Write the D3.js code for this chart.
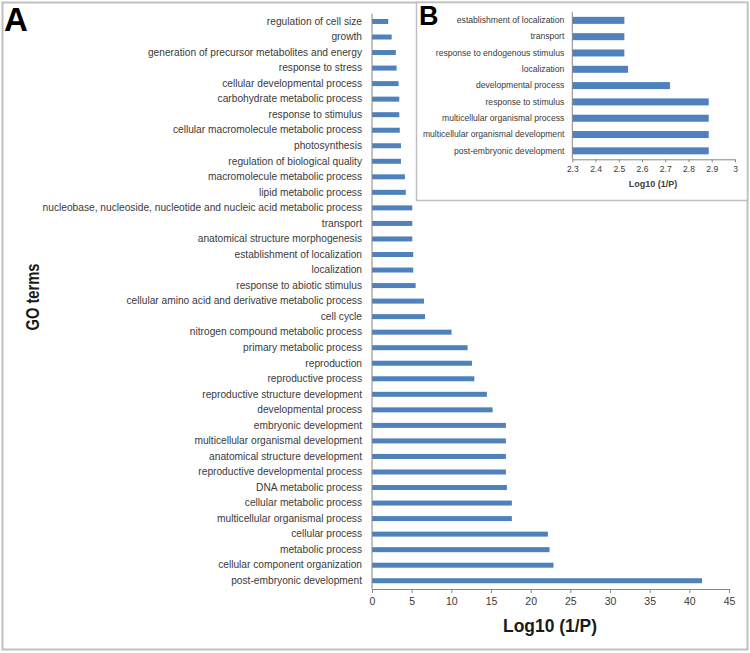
<!DOCTYPE html>
<html><head><meta charset="utf-8">
<script src="https://cdn.jsdelivr.net/npm/d3@7"></script>
<style>
body{margin:0;background:#fff;}
svg{display:block;font-family:"Liberation Sans",Arial,sans-serif;}
</style></head>
<body><svg id="c" width="750" height="653"></svg>
<script>
const mainCategories = [
 "regulation of cell size","growth","generation of precursor metabolites and energy","response to stress",
 "cellular developmental process","carbohydrate metabolic process","response to stimulus",
 "cellular macromolecule metabolic process","photosynthesis","regulation of biological quality",
 "macromolecule metabolic process","lipid metabolic process",
 "nucleobase, nucleoside, nucleotide and nucleic acid metabolic process","transport",
 "anatomical structure morphogenesis","establishment of localization","localization",
 "response to abiotic stimulus","cellular amino acid and derivative metabolic process","cell cycle",
 "nitrogen compound metabolic process","primary metabolic process","reproduction","reproductive process",
 "reproductive structure development","developmental process","embryonic development",
 "multicellular organismal development","anatomical structure development",
 "reproductive developmental process","DNA metabolic process","cellular metabolic process",
 "multicellular organismal process","cellular process","metabolic process",
 "cellular component organization","post-embryonic development"];
const mainValues = [2.05,2.48,3.0,3.1,3.35,3.44,3.44,3.5,3.65,3.65,4.15,4.26,
 5.08,5.08,5.08,5.2,5.2,5.5,6.55,6.68,10.03,12.05,12.6,12.9,14.48,15.2,
 16.88,16.88,16.88,16.88,17.0,17.63,17.63,22.17,22.38,22.88,41.6];
const mainTicks = [0,5,10,15,20,25,30,35,40,45];

const insetCategories = ["establishment of localization","transport","response to endogenous stimulus",
 "localization","developmental process","response to stimulus","multicellular organismal process",
 "multicellular organismal development","post-embryonic development"];
const insetValues = [2.524,2.524,2.524,2.54,2.72,2.887,2.887,2.887,2.887];
const insetTicks = [2.3,2.4,2.5,2.6,2.7,2.8,2.9,3];

const barColor = "#4F81BD", axisColor = "#868686", textColor = "#3a3a3a";
const svg = d3.select("#c");

// outer border
svg.append("rect").attr("x",2.5).attr("y",2.5).attr("width",745).attr("height",647)
  .attr("fill","#fff").attr("stroke","#bfbfbf").attr("stroke-width",2);

// ---- main chart A ----
const x = d3.scaleLinear().domain([0,45]).range([372,729]);
const y = d3.scaleBand().domain(mainCategories).range([13.7,588.5]).paddingInner(0.66).paddingOuter(0.33);
const gA = svg.append("g");
gA.selectAll("rect.bar").data(mainCategories).join("rect").attr("class","bar")
  .attr("x",x(0)).attr("y",d=>y(d)+y.bandwidth()/2-2.5).attr("height",5)
  .attr("width",(d,i)=>x(mainValues[i])-x(0)).attr("fill",barColor);
const xAxis = gA.append("g").attr("transform","translate(0,589)")
  .call(d3.axisBottom(x).tickValues(mainTicks).tickSize(4).tickSizeOuter(0).tickPadding(5));
xAxis.select(".domain").attr("stroke",axisColor);
xAxis.selectAll(".tick line").attr("stroke",axisColor);
xAxis.selectAll(".tick text").attr("fill",textColor).attr("font-size","10.5px");
const yAxis = gA.append("g").attr("transform","translate(372,0)")
  .call(d3.axisLeft(y).tickSize(0).tickPadding(10));
yAxis.select(".domain").attr("stroke",axisColor).attr("d","M0,13.7V589");
yAxis.selectAll(".tick text").attr("fill",textColor).attr("font-size","10.2px");
gA.append("text").attr("x",550).attr("y",632).attr("text-anchor","middle")
  .attr("font-weight","bold").attr("font-size","18px").attr("fill","#1a1a1a")
  .attr("textLength",94).attr("lengthAdjust","spacingAndGlyphs").text("Log10 (1/P)");
gA.append("text").attr("transform","translate(39,297) rotate(-90)").attr("text-anchor","middle")
  .attr("font-weight","bold").attr("font-size","18px").attr("fill","#1a1a1a")
  .attr("textLength",67).attr("lengthAdjust","spacingAndGlyphs").text("GO terms");
svg.append("text").attr("x",4).attr("y",31).attr("font-weight","bold").attr("font-size","33px")
  .attr("fill","#000").text("A");

// ---- inset B ----
svg.append("rect").attr("x",416.5).attr("y",2.5).attr("width",331).attr("height",198)
  .attr("fill","#fff").attr("stroke","#bfbfbf").attr("stroke-width",1.5);
const xi = d3.scaleLinear().domain([2.3,3]).range([572.3,735]);
const yi = d3.scaleBand().domain(insetCategories).range([12.2,159]).paddingInner(0.56).paddingOuter(0.28);
const gB = svg.append("g");
gB.selectAll("rect.bar").data(insetCategories).join("rect").attr("class","bar")
  .attr("x",xi(2.3)).attr("y",d=>yi(d)+yi.bandwidth()/2-3.5).attr("height",7)
  .attr("width",(d,i)=>xi(insetValues[i])-xi(2.3)).attr("fill",barColor);
const xiAxis = gB.append("g").attr("transform","translate(0,159.3)")
  .call(d3.axisBottom(xi).tickValues(insetTicks).tickFormat(d3.format("")).tickSize(3).tickSizeOuter(0).tickPadding(4));
xiAxis.select(".domain").attr("stroke",axisColor);
xiAxis.selectAll(".tick line").attr("stroke",axisColor);
xiAxis.selectAll(".tick text").attr("fill",textColor).attr("font-size","8.5px");
const yiAxis = gB.append("g").attr("transform","translate(572.3,0)")
  .call(d3.axisLeft(yi).tickSize(0).tickPadding(8));
yiAxis.select(".domain").attr("stroke",axisColor).attr("d","M0,12.2V159.3");
yiAxis.selectAll(".tick text").attr("fill",textColor).attr("font-size","8.6px");
gB.append("text").attr("x",653).attr("y",187).attr("text-anchor","middle")
  .attr("font-weight","bold").attr("font-size","9px").attr("fill","#404040").text("Log10 (1/P)");
svg.append("text").attr("x",419).attr("y",25).attr("font-weight","bold").attr("font-size","27px")
  .attr("fill","#000").text("B");
</script></body></html>
